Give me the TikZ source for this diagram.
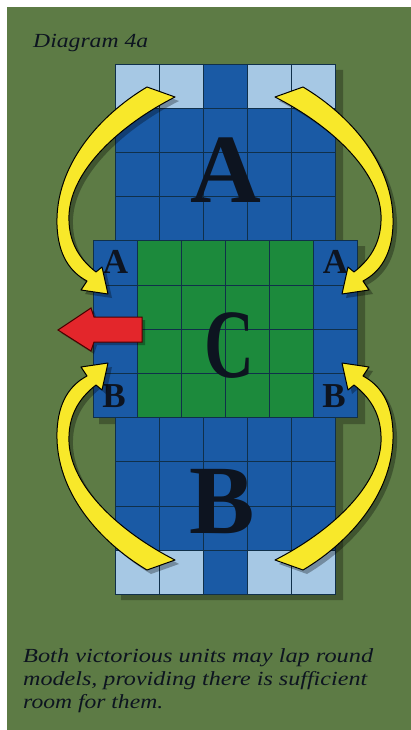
\documentclass[tikz,border=0pt]{standalone}
\usepackage{fontspec}
\setmainfont{Liberation Serif}
\definecolor{bgolive}{HTML}{5D7B45}
\definecolor{blueD}{HTML}{1A5AA5}
\definecolor{blueL}{HTML}{A6C8E4}
\definecolor{greenC}{HTML}{1C8A3C}
\definecolor{yel}{HTML}{F8E82A}
\definecolor{redA}{HTML}{E3262B}
\definecolor{gline}{HTML}{10304A}
\definecolor{ink}{HTML}{0D1420}
\tikzset{
  gridln/.style={draw=gline, line width=0.8pt},
  bigletter/.style={font=\fontsize{98}{98}\selectfont\bfseries, text=ink, inner sep=0pt, anchor=base},
  smallletter/.style={font=\fontsize{35}{35}\selectfont\bfseries, text=ink, inner sep=0pt, anchor=base},
  captext/.style={font=\fontsize{20}{20}\selectfont\itshape, text=ink, inner sep=0pt, anchor=base west},
  yarrow/.style={fill=yel, draw=black, line width=1pt, line join=round},
  yshadow/.style={fill=black, opacity=0.3},
  rarrow/.style={fill=redA, draw=black!70!red, line width=1pt, line join=miter},
}
\newcommand{\yellowpath}{(147,87) .. controls (100,115) and (55,165) .. (57,225)
  .. controls (58,255) and (70,272) .. (87,281) -- (81,290) -- (108,294) -- (102,267) -- (96,272)
  .. controls (78,258) and (68,240) .. (69,215)
  .. controls (71,170) and (120,125) .. (175,97) -- cycle}
\begin{document}
\begin{tikzpicture}[x=1pt,y=-1pt]
\useasboundingbox (0,0) rectangle (411,730);
\fill[white] (0,0) rectangle (411,730);
\fill[bgolive] (7,7) rectangle (411,730);
% grid shadow
\fill[black,opacity=0.28] (121,70) rectangle (343,246) (343,246) rectangle (365,424) (121,246) rectangle (343,600) (99,246) rectangle (121,424);
% unit A
\fill[blueD] (115,64) rectangle (335,240.8);
\foreach \i in {0,1,3,4}{\fill[blueL] (115+44*\i,64) rectangle (159+44*\i,108.2);}
% unit C
\fill[blueD] (93,240.8) rectangle (357,417.6);
\fill[greenC] (137,240.8) rectangle (313,417.6);
% unit B
\fill[blueD] (115,417.6) rectangle (335,594.4);
\foreach \i in {0,1,3,4}{\fill[blueL] (115+44*\i,550.2) rectangle (159+44*\i,594.4);}
% grid lines
\foreach \x in {159,203,247,291}{\draw[gridln] (\x,64) -- (\x,240.8); \draw[gridln] (\x,417.6) -- (\x,594.4);}
\foreach \y in {108.2,152.4,196.6}{\draw[gridln] (115,\y) -- (335,\y);}
\foreach \y in {461.8,506,550.2}{\draw[gridln] (115,\y) -- (335,\y);}
\foreach \x in {137,181,225,269,313}{\draw[gridln] (\x,240.8) -- (\x,417.6);}
\foreach \y in {240.8,285,329.2,373.4,417.6}{\draw[gridln] (93,\y) -- (357,\y);}
\draw[gridln] (115,64) rectangle (335,240.8);
\draw[gridln] (115,417.6) rectangle (335,594.4);
\draw[gridln] (93,240.8) rectangle (357,417.6);
% letters
\node[bigletter] (bigA) at (226,202) {A};
\node[bigletter] (bigC) at (229,377) {\resizebox{50pt}{\height}{C}};
\node[bigletter] (bigB) at (222,533) {B};
\node[smallletter] (aL) at (115.5,273) {A};
\node[smallletter] (aR) at (335.5,273) {A};
\node[smallletter] (bL) at (114,407) {B};
\node[smallletter] (bR) at (334,407) {B};
% yellow arrows: shadows
\begin{scope}[shift={(4,4)}]
  \fill[yshadow] \yellowpath;
  \begin{scope}[shift={(450,0)},xscale=-1] \fill[yshadow] \yellowpath; \end{scope}
  \begin{scope}[shift={(0,657)},yscale=-1] \fill[yshadow] \yellowpath; \end{scope}
  \begin{scope}[shift={(450,657)},scale=-1] \fill[yshadow] \yellowpath; \end{scope}
\end{scope}
% yellow arrows
\draw[yarrow] \yellowpath;
\begin{scope}[shift={(450,0)},xscale=-1] \draw[yarrow] \yellowpath; \end{scope}
\begin{scope}[shift={(0,657)},yscale=-1] \draw[yarrow] \yellowpath; \end{scope}
\begin{scope}[shift={(450,657)},scale=-1] \draw[yarrow] \yellowpath; \end{scope}
% red arrow
\fill[black,opacity=0.3] (61,333) -- (94,311) -- (97,320) -- (145,320) -- (145,345) -- (97,345) -- (94,354) -- cycle;
\draw[rarrow] (58,330) -- (91,308) -- (94,317) -- (142,317) -- (142,342) -- (94,342) -- (91,351) -- cycle;
% texts
\node[captext] (title) at (33,48) {\resizebox{115pt}{\height}{Diagram 4a}};
\node[captext] (cap1) at (23,662) {\resizebox{350pt}{\height}{Both victorious units may lap round}};
\node[captext] (cap2) at (23,685) {\resizebox{344pt}{\height}{models, providing there is sufficient}};
\node[captext] (cap3) at (23,708) {\resizebox{140pt}{\height}{room for them.}};
\end{tikzpicture}
\end{document}
